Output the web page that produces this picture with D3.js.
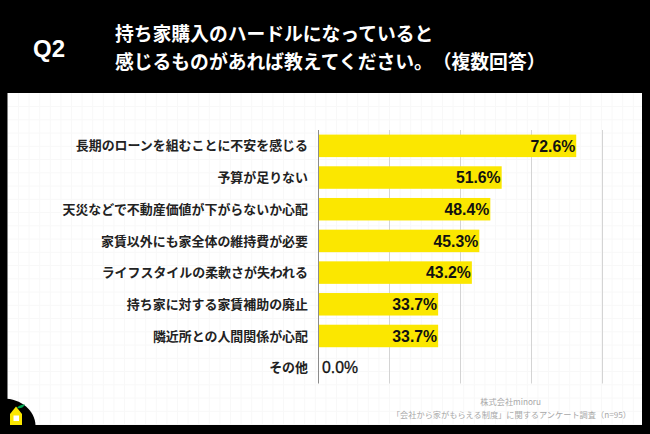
<!DOCTYPE html>
<html><head><meta charset="utf-8">
<script src="https://cdn.jsdelivr.net/npm/d3@7"></script>
<style>html,body{margin:0;padding:0;background:#000}svg{display:block}text{text-spacing-trim:space-all}</style>
</head><body><svg id="c" width="650" height="434"></svg>
<script>
const categories=["長期のローンを組むことに不安を感じる","予算が足りない","天災などで不動産価値が下がらないか心配","家賃以外にも家全体の維持費が必要","ライフスタイルの柔軟さが失われる","持ち家に対する家賃補助の廃止","隣近所との人間関係が心配","その他"];
const values=[72.6,51.6,48.4,45.3,43.2,33.7,33.7,0.0];
const gridTicks=[0,20,40,60,80];
const titleLines=["持ち家購入のハードルになっていると","感じるものがあれば教えてください。（複数回答）"];
const sourceLines=["株式会社minoru","「会社から家がもらえる制度」に関するアンケート調査（n=95）"];
const font="'Noto Sans CJK JP','Noto Sans',sans-serif";
const latin="'Liberation Sans','Noto Sans CJK JP',sans-serif";
const svg=d3.select("#c");
svg.append("rect").attr("width",650).attr("height",434).attr("fill","#000");
svg.append("rect").attr("x",7.5).attr("y",93).attr("width",634.5).attr("height",332).attr("fill","#fff");
// faint paper grid
const g0=svg.append("g").attr("stroke","#f8f8f8").attr("stroke-width",1);
d3.range(18.5,642,10.6).forEach(x=>g0.append("line").attr("x1",x).attr("x2",x).attr("y1",93).attr("y2",425));
d3.range(106.5,425,13.25).forEach(y=>g0.append("line").attr("x1",8).attr("x2",642).attr("y1",y).attr("y2",y));
const x=d3.scaleLinear().domain([0,80]).range([319,603]);
const y=d3.scaleBand().domain(categories).range([130,383.5]).paddingInner(0.29).paddingOuter(0.145);
svg.append("g").selectAll("line").data(gridTicks.slice(1)).join("line")
 .attr("x1",d=>x(d)-.5).attr("x2",d=>x(d)-.5).attr("y1",130).attr("y2",383.5).attr("stroke","#d4d4d4").attr("stroke-width",1);
svg.append("g").selectAll("rect").data(values).join("rect")
 .attr("x",x(0)).attr("y",(d,i)=>y(categories[i])).attr("width",d=>x(d)-x(0)-(d>0?.5:0)).attr("height",y.bandwidth()).attr("fill","#fbe700");
svg.append("line").attr("x1",318.5).attr("x2",318.5).attr("y1",130).attr("y2",383.5).attr("stroke","#8c8c8c").attr("stroke-width",1);
svg.append("g").selectAll("text").data(categories).join("text")
 .attr("x",308).attr("y",d=>y(d)+y.bandwidth()/2+4.6).attr("text-anchor","end")
 .attr("font-family",font).attr("font-size",12.95).attr("font-weight",700).attr("fill","#222").text(d=>d);
svg.append("g").selectAll("text").data(values).join("text")
 .attr("x",d=>d>0?x(d)-1.5:358).attr("y",(d,i)=>y(categories[i])+y.bandwidth()/2+5.8).attr("text-anchor","end")
 .attr("font-family",latin).attr("font-size",15.8).attr("font-weight",d=>d>0?700:400).attr("stroke","#111").attr("stroke-width",d=>d>0?0:.3).attr("fill","#111").text(d=>d.toFixed(1)+"%");
svg.append("text").attr("x",33).attr("y",56.5).attr("font-family",latin).attr("font-size",24).attr("font-weight",700).attr("fill","#fff").text("Q2");
svg.append("g").selectAll("text").data(titleLines).join("text").attr("x",115).attr("y",(d,i)=>41+i*28)
 .attr("font-family",font).attr("font-size",18.8).attr("font-weight",700).attr("fill","#fff").text(d=>d);
svg.append("g").selectAll("text").data(sourceLines).join("text").attr("x",(d,i)=>i?631:541).attr("y",(d,i)=>405+i*12.5).attr("text-anchor","end")
 .attr("font-family",font).attr("font-size",8.2).attr("fill","#a8a8a8").text(d=>d);
// logo
svg.append("path").attr("d","M0 398.5 C20 397 35 410 35.5 425 L35.5 434 L0 434 Z").attr("fill","#000");
svg.append("path").attr("d","M10 425 L10 414 L16 406.5 L22 414 L22 425 Z").attr("fill","#fbe700");
svg.append("path").attr("d","M17 408 Q19 404.5 25 404.5 Q22 409.5 17 408 Z").attr("fill","#00a651");
svg.append("rect").attr("x",13.5).attr("y",415.5).attr("width",5.5).attr("height",5.5).attr("fill","#fff");
</script></body></html>
